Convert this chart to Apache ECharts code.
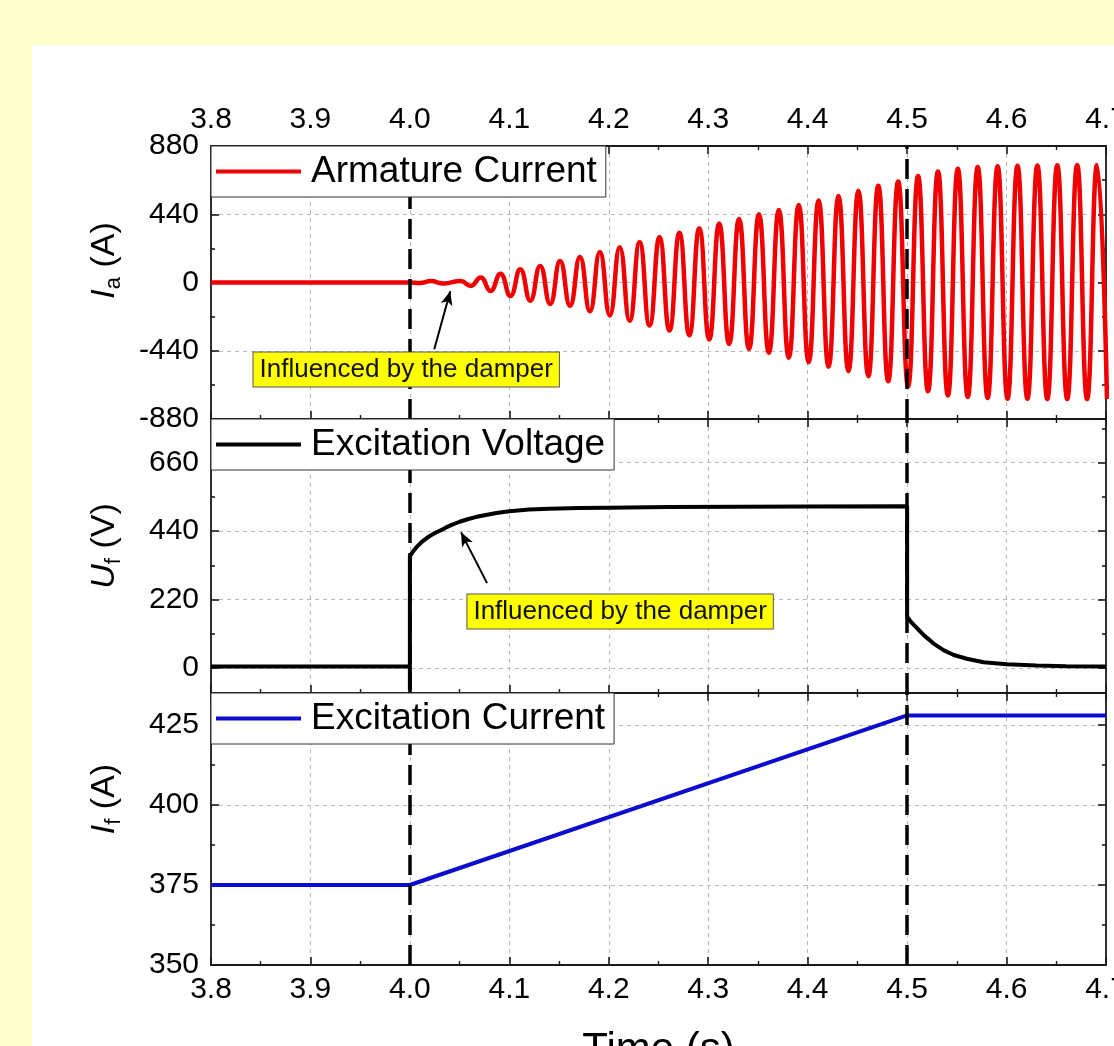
<!DOCTYPE html>
<html><head><meta charset="utf-8">
<script src="https://cdn.jsdelivr.net/npm/echarts@6/dist/echarts.min.js"></script>
<style>html,body{margin:0;padding:0;background:#ffffcc;} #c{width:1114px;height:1046px;}</style>
</head><body><div id="c"></div>
<script>
// ---------- data ----------
const X_MIN = 3.8, X_MAX = 4.7, X_STEP = 0.1;
const SERIES_NAMES = ['Armature Current', 'Excitation Voltage', 'Excitation Current'];
const EVENT_TIMES = [4.0, 4.5];
const NOTE_TEXT = 'Influenced by the damper';

// Armature current: peaks / troughs
const IA_T = [3.8, 3.99, 4.0, 4.01, 4.021, 4.034, 4.051,
  4.061, 4.071, 4.081, 4.091, 4.101, 4.111, 4.121, 4.131, 4.141, 4.151,
  4.161, 4.171, 4.181, 4.191, 4.201, 4.211, 4.221, 4.231, 4.241, 4.251,
  4.261, 4.271, 4.281, 4.291, 4.301, 4.311, 4.321, 4.331, 4.341, 4.351,
  4.361, 4.371, 4.381, 4.391, 4.401, 4.411, 4.421, 4.431, 4.441, 4.451,
  4.461, 4.471, 4.481, 4.491, 4.501, 4.511, 4.521, 4.531, 4.541, 4.551,
  4.561, 4.571, 4.581, 4.591, 4.601, 4.611, 4.621, 4.631, 4.641, 4.651,
  4.661, 4.671, 4.681, 4.691, 4.701];
const IA_V = [0, 0, 0, -3, 9, -6, 10,
  -22, 33, -54, 57, -87, 85, -117, 107, -138, 138,
  -150, 165, -185, 196, -212, 228, -247, 259, -277, 291,
  -310, 320, -340, 350, -367, 380, -396, 410, -429, 440,
  -453, 467, -485, 500, -514, 528, -543, 557, -572, 592,
  -604, 624, -637, 651, -669, 686, -701, 716, -728, 733,
  -738, 744, -744, 750, -749, 753, -750, 755, -751, 756,
  -751, 757, -751, 758, -751];

// Excitation voltage
const UF_T = [3.8, 4.0, 4.0, 4.0, 4.004, 4.008, 4.013, 4.018, 4.024, 4.030, 4.036, 4.042, 4.050, 4.058, 4.066,
  4.075, 4.087, 4.100, 4.120, 4.140, 4.170, 4.200, 4.260, 4.330, 4.400, 4.500,
  4.500, 4.504, 4.510, 4.517, 4.527, 4.537, 4.547, 4.560, 4.577, 4.600, 4.630, 4.660, 4.700];
const UF_V = [5, 5, -70, 360, 378, 393, 408, 420, 432, 441, 451, 460, 470, 478, 485,
  491, 498, 504, 509, 512, 514, 515, 517, 518, 519, 520,
  165, 148, 128, 105, 78, 57, 42, 30, 19, 12, 8, 6, 5];

// Excitation current
const IF_T = [3.8, 4.0, 4.5, 4.7];
const IF_V = [375, 375, 428, 428];

// axis ranges and ticks
const IA_RANGE = [-880, 880], UF_RANGE = [-80, 800], IF_RANGE = [350, 435];
const IA_TICKS = [-880, -440, 0, 440, 880], IA_MINOR = [-660, -220, 220, 660];
const UF_TICKS = [0, 220, 440, 660], UF_MINOR = [110, 330, 550, 770];
const IF_TICKS = [350, 375, 400, 425], IF_MINOR = [362.5, 387.5, 412.5];

// annotation anchors (data coordinates)
const IA_NOTE_AT = [3.9963, -561];
const IA_ARROW = [[4.0245, -431], [4.0406, -56]];
const UF_NOTE_AT = [4.2114, 182];
const UF_ARROW = [[4.0776, 273], [4.0514, 436]];

// ---------- styling / layout ----------
const FONT = "Arial, 'Liberation Sans', Helvetica, sans-serif";
const AX = '#1a1a1a';
const GRIDC = '#b8b8b8';
const COLORS = ['#f00000', '#000000', '#0c0cd0'];
const GRIDS = [
  {left: 211, right: 8, top: 146, height: 273, outerBoundsMode: 'none', containLabel: false},
  {left: 211, right: 8, top: 419, height: 274, outerBoundsMode: 'none', containLabel: false},
  {left: 211, right: 8, top: 693, height: 272, outerBoundsMode: 'none', containLabel: false}
];
const pairs = (t, v) => t.map((x, i) => [x, v[i]]);

function xAxes(gi) {
  const base = {
    type: 'value', gridIndex: gi, min: X_MIN, max: X_MAX, interval: X_STEP,
    axisLine: {show: true, onZero: false, lineStyle: {color: AX, width: 1.8}},
    axisTick: {show: true, inside: true, length: 8, lineStyle: {color: AX, width: 1.6}},
    minorTick: {show: true, splitNumber: 2, length: 4, lineStyle: {color: AX, width: 1.4}},
    axisLabel: {fontFamily: FONT, fontSize: 30, color: '#000', formatter: v => v.toFixed(1)}
  };
  const bottom = Object.assign({}, base, {
    position: 'bottom',
    axisLabel: Object.assign({}, base.axisLabel, {show: gi === 2, margin: 10}),
    splitLine: {show: true, lineStyle: {color: GRIDC, type: [4, 4], width: 1}}
  });
  if (gi === 2) {
    bottom.name = 'Time (s)';
    bottom.nameLocation = 'middle';
    bottom.nameGap = 64;
    bottom.nameMoveOverlap = false;
    bottom.nameTextStyle = {fontFamily: FONT, fontSize: 42, color: '#000'};
  }
  const top = Object.assign({}, base, {
    position: 'top',
    axisLabel: Object.assign({}, base.axisLabel, {show: gi === 0, margin: 11}),
    splitLine: {show: false}
  });
  return [bottom, top];
}

function yAxes(gi, range, ticks, minor, nameMain, nameSub, unit, shift) {
  const common = {type: 'value', gridIndex: gi, min: range[0], max: range[1]};
  const tick = (len, vals) => ({show: true, inside: true, length: len, customValues: vals,
    lineStyle: {color: AX, width: 1.6}});
  const leftMajor = Object.assign({}, common, {
    position: 'left',
    axisLine: {show: true, onZero: false, lineStyle: {color: AX, width: 1.8}},
    axisTick: tick(8, ticks),
    axisLabel: {show: true, customValues: ticks, fontFamily: FONT, fontSize: 30, color: '#000', margin: 12},
    splitLine: {show: true, lineStyle: {color: GRIDC, type: [4, 4], width: 1}},
    name: '{i|' + nameMain + '}{s|' + nameSub + '}{n| ' + unit + '}',
    nameLocation: 'middle', nameRotate: 90, nameGap: 86, nameMoveOverlap: false,
    nameTextStyle: {fontFamily: FONT, fontSize: 34, color: '#000', padding: [0, 0, 0, shift],
      rich: {
        i: {fontFamily: FONT, fontSize: 34, fontStyle: 'italic', lineHeight: 40, color: '#000'},
        s: {fontFamily: FONT, fontSize: 22, verticalAlign: 'bottom', lineHeight: 22, color: '#000'},
        n: {fontFamily: FONT, fontSize: 34, lineHeight: 40, color: '#000'}
      }}
  });
  const hidden = {show: false};
  const leftMinor = Object.assign({}, common, {
    position: 'left', axisLine: {show: false, onZero: false}, axisTick: tick(4, minor),
    axisLabel: hidden, splitLine: hidden
  });
  const rightMajor = Object.assign({}, common, {
    position: 'right', axisLine: {show: true, onZero: false, lineStyle: {color: AX, width: 1.8}},
    axisTick: tick(8, ticks), axisLabel: hidden, splitLine: hidden
  });
  const rightMinor = Object.assign({}, common, {
    position: 'right', axisLine: {show: false, onZero: false}, axisTick: tick(4, minor),
    axisLabel: hidden, splitLine: hidden
  });
  return [leftMajor, leftMinor, rightMajor, rightMinor];
}

function eventLines() {
  return EVENT_TIMES.map(t => ({xAxis: t, lineStyle: {color: '#000', width: 3.5, type: [20, 10]}}));
}
function arrowLine(a) {
  return [
    {coord: a[0], symbol: 'none', lineStyle: {color: '#000', width: 2, type: 'solid'}},
    {coord: a[1], symbol: 'arrow', symbolSize: [9, 14]}
  ];
}
function noteMark(at) {
  return {
    silent: true, symbol: 'circle', symbolSize: 1, itemStyle: {color: 'rgba(0,0,0,0)'},
    data: [{coord: at, value: 0}],
    label: {show: true, position: 'inside', formatter: NOTE_TEXT, fontFamily: FONT, fontSize: 26,
      color: '#111', backgroundColor: '#ffff00', borderColor: '#555', borderWidth: 1,
      padding: [5, 6, 3, 6]}
  };
}

const legends = SERIES_NAMES.map((n, i) => ({
  data: [n], left: 211, top: GRIDS[i].top, icon: 'rect', itemWidth: 85, itemHeight: 4,
  padding: [7, 9, 7, 5], backgroundColor: '#ffffff', borderColor: '#333', borderWidth: 1,
  z: 20, zlevel: 0,
  selectedMode: false, textStyle: {fontFamily: FONT, fontSize: 37, color: '#000', padding: [0, 0, 0, 5]}
}));

const option = {
  backgroundColor: '#ffffff',
  animation: false,
  graphic: [
    {type: 'rect', left: 0, top: 0, shape: {width: 1114, height: 45}, style: {fill: '#ffffcc'}, silent: true},
    {type: 'rect', left: 0, top: 0, shape: {width: 32, height: 1046}, style: {fill: '#ffffcc'}, silent: true}
  ],
  grid: GRIDS,
  legend: legends,
  xAxis: [].concat(xAxes(0), xAxes(1), xAxes(2)),
  yAxis: [].concat(
    yAxes(0, IA_RANGE, IA_TICKS, IA_MINOR, 'I', 'a', '(A)', 44),
    yAxes(1, UF_RANGE, UF_TICKS, UF_MINOR, 'U', 'f', '(V)', 20),
    yAxes(2, IF_RANGE, IF_TICKS, IF_MINOR, 'I', 'f', '(A)', 60)
  ),
  series: [
    {
      type: 'line', name: SERIES_NAMES[0], xAxisIndex: 0, yAxisIndex: 0,
      data: pairs(IA_T, IA_V), symbol: 'none', showSymbol: false, smooth: 0.5,
      lineStyle: {color: COLORS[0], width: 4.5}, itemStyle: {color: COLORS[0]}, z: 3,
      markLine: {silent: true, symbol: ['none', 'none'], label: {show: false},
        data: eventLines().concat([arrowLine(IA_ARROW)])},
      markPoint: noteMark(IA_NOTE_AT)
    },
    {
      type: 'line', name: SERIES_NAMES[1], xAxisIndex: 2, yAxisIndex: 4,
      data: pairs(UF_T, UF_V), symbol: 'none', showSymbol: false,
      lineStyle: {color: COLORS[1], width: 4}, itemStyle: {color: COLORS[1]}, z: 3,
      markLine: {silent: true, symbol: ['none', 'none'], label: {show: false},
        data: eventLines().concat([arrowLine(UF_ARROW)])},
      markPoint: noteMark(UF_NOTE_AT)
    },
    {
      type: 'line', name: SERIES_NAMES[2], xAxisIndex: 4, yAxisIndex: 8,
      data: pairs(IF_T, IF_V), symbol: 'none', showSymbol: false,
      lineStyle: {color: COLORS[2], width: 4}, itemStyle: {color: COLORS[2]}, z: 3,
      markLine: {silent: true, symbol: ['none', 'none'], label: {show: false}, data: eventLines()}
    }
  ]
};

const chart = echarts.init(document.getElementById('c'), null, {renderer: 'canvas'});
chart.setOption(option);
</script></body></html>
